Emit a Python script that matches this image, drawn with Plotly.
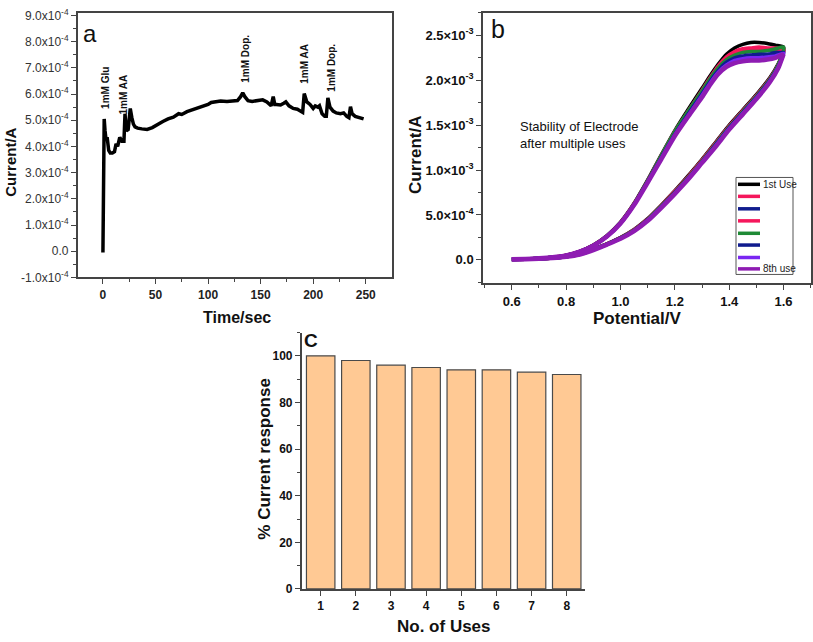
import plotly.graph_objects as go

# ---------------- Panel a: amperometric response ----------------
time_s = [0, 0.3, 1.2, 2.0, 3.0, 4.0, 5.5, 7, 9, 11, 12.5, 14, 16, 18, 20, 21.0, 22.2, 24, 26, 27.5,
          29, 30.5, 33, 37, 42, 47, 52, 57, 62, 67, 72, 75, 80, 85, 90, 95, 100, 103, 107, 112,
          118, 124, 128, 131, 133, 135, 138, 142, 147, 152, 156, 160, 162, 163.5, 165, 169, 172, 174, 177, 181,
          185, 188, 190, 191.5, 194, 197, 200, 202, 204.5, 206, 208.5, 211, 212.5, 214, 216, 219, 222, 226, 229, 232,
          234, 235.5, 237, 240, 244, 248]
current_a_e4 = [-0.05, 3.3, 5.05, 4.6, 4.25, 4.35, 3.85, 3.75, 3.75, 3.8, 4.1, 4.0, 4.35, 4.2, 4.2, 5.25, 4.6, 4.65, 5.45, 5.1,
                4.85, 4.75, 4.7, 4.67, 4.65, 4.72, 4.85, 4.95, 5.05, 5.12, 5.25, 5.22, 5.33, 5.4, 5.48, 5.52, 5.6, 5.68, 5.7, 5.73,
                5.72, 5.75, 5.75, 5.9, 6.05, 5.9, 5.75, 5.72, 5.75, 5.78, 5.7, 5.55, 5.9, 5.6, 5.6, 5.58, 5.65, 5.7, 5.55, 5.45,
                5.42, 5.35, 5.3, 6.02, 5.7, 5.6, 5.45, 5.55, 5.5, 5.55, 5.25, 5.15, 5.15, 5.85, 5.5, 5.35, 5.28, 5.25, 5.28, 5.15,
                5.1, 5.52, 5.25, 5.15, 5.1, 5.05]
event_labels = ["1mM Glu", "1mM AA", "1mM Dop.", "1mM AA", "1mM Dop."]
event_times = [3, 20, 135.5, 191.8, 216.6]
event_label_base_e4 = [5.36, 5.14, 6.37, 6.3, 6.0]
a_yticks_e4 = [-1, 0, 1, 2, 3, 4, 5, 6, 7, 8, 9]
a_yticktext = ["-1.0x10<sup>-4</sup>", "0.0"] + ["%d.0x10<sup>-4</sup>" % k for k in range(1, 10)]
a_xticks = [0, 50, 100, 150, 200, 250]

# ---------------- Panel b: CV stability ----------------
potential_fwd = [0.60, 0.65, 0.70, 0.75, 0.80, 0.85, 0.90, 0.95, 1.00, 1.05, 1.10, 1.15, 1.20, 1.25, 1.30,
                 1.35, 1.40, 1.45, 1.50, 1.55, 1.58, 1.60]
potential_rev = [1.60, 1.57, 1.54, 1.51, 1.48, 1.45, 1.42, 1.39, 1.36, 1.33, 1.30, 1.25, 1.20, 1.15, 1.10,
                 1.05, 1.00, 0.95, 0.90, 0.85, 0.80, 0.75, 0.70, 0.65, 0.60]
# currents in units of 1e-3 A
use1_fwd = [0.004, 0.008, 0.013, 0.022, 0.038, 0.065, 0.12, 0.18, 0.25, 0.34, 0.46, 0.61, 0.77, 0.94, 1.12, 1.31, 1.50, 1.67, 1.84, 2.03, 2.18, 2.33]
use1_rev = [2.37, 2.39, 2.41, 2.42, 2.42, 2.40, 2.36, 2.29, 2.18, 2.05, 1.91, 1.68, 1.44, 1.17, 0.89, 0.63, 0.42, 0.27, 0.165, 0.095, 0.052, 0.030, 0.018, 0.011, 0.007]
use2_fwd = [0.004, 0.008, 0.013, 0.022, 0.037, 0.064, 0.118, 0.178, 0.248, 0.335, 0.455, 0.605, 0.765, 0.93, 1.11, 1.30, 1.49, 1.66, 1.83, 2.02, 2.17, 2.32]
use2_rev = [2.35, 2.36, 2.36, 2.37, 2.36, 2.35, 2.32, 2.26, 2.16, 2.03, 1.89, 1.66, 1.43, 1.16, 0.88, 0.625, 0.415, 0.265, 0.163, 0.094, 0.051, 0.029, 0.018, 0.011, 0.007]
use3_fwd = [0.004, 0.008, 0.013, 0.021, 0.036, 0.063, 0.116, 0.175, 0.245, 0.33, 0.45, 0.60, 0.755, 0.92, 1.10, 1.29, 1.48, 1.65, 1.82, 2.01, 2.16, 2.31]
use3_rev = [2.33, 2.33, 2.33, 2.33, 2.32, 2.31, 2.28, 2.23, 2.14, 2.01, 1.87, 1.65, 1.42, 1.15, 0.875, 0.62, 0.41, 0.262, 0.16, 0.093, 0.05, 0.029, 0.018, 0.011, 0.007]
use4_fwd = [0.004, 0.008, 0.013, 0.021, 0.036, 0.063, 0.117, 0.176, 0.246, 0.332, 0.452, 0.602, 0.76, 0.925, 1.105, 1.295, 1.485, 1.655, 1.825, 2.015, 2.165, 2.315]
use4_rev = [2.34, 2.35, 2.35, 2.35, 2.34, 2.33, 2.30, 2.24, 2.15, 2.02, 1.88, 1.65, 1.42, 1.15, 0.875, 0.62, 0.41, 0.262, 0.16, 0.093, 0.05, 0.029, 0.018, 0.011, 0.007]
use5_fwd = [0.004, 0.008, 0.013, 0.021, 0.036, 0.063, 0.116, 0.175, 0.245, 0.33, 0.45, 0.60, 0.755, 0.92, 1.10, 1.29, 1.48, 1.65, 1.82, 2.01, 2.17, 2.34]
use5_rev = [2.37, 2.35, 2.33, 2.32, 2.32, 2.31, 2.28, 2.23, 2.14, 2.02, 1.88, 1.66, 1.43, 1.16, 0.88, 0.62, 0.41, 0.262, 0.16, 0.093, 0.05, 0.029, 0.018, 0.011, 0.007]
use6_fwd = [0.004, 0.008, 0.012, 0.021, 0.035, 0.062, 0.114, 0.173, 0.242, 0.326, 0.445, 0.593, 0.748, 0.912, 1.092, 1.28, 1.47, 1.64, 1.81, 2.00, 2.15, 2.30]
use6_rev = [2.31, 2.30, 2.29, 2.29, 2.28, 2.27, 2.25, 2.20, 2.11, 1.99, 1.85, 1.63, 1.40, 1.14, 0.87, 0.615, 0.408, 0.261, 0.159, 0.092, 0.05, 0.029, 0.018, 0.011, 0.007]
use7_fwd = [0.004, 0.008, 0.012, 0.02, 0.035, 0.061, 0.112, 0.171, 0.238, 0.323, 0.44, 0.586, 0.741, 0.906, 1.086, 1.27, 1.46, 1.63, 1.80, 1.99, 2.14, 2.29]
use7_rev = [2.30, 2.27, 2.26, 2.25, 2.25, 2.24, 2.22, 2.17, 2.09, 1.97, 1.83, 1.61, 1.39, 1.13, 0.865, 0.612, 0.406, 0.26, 0.158, 0.092, 0.05, 0.029, 0.018, 0.011, 0.007]
use8_fwd = [0.004, 0.008, 0.012, 0.02, 0.034, 0.06, 0.11, 0.17, 0.235, 0.32, 0.435, 0.58, 0.735, 0.90, 1.08, 1.26, 1.45, 1.62, 1.79, 1.98, 2.13, 2.29]
use8_rev = [2.29, 2.25, 2.23, 2.22, 2.22, 2.21, 2.19, 2.15, 2.07, 1.95, 1.81, 1.60, 1.38, 1.12, 0.86, 0.61, 0.405, 0.26, 0.158, 0.092, 0.05, 0.029, 0.018, 0.011, 0.007]
use_names = ["1st Use", "2nd Use", "3rd Use", "4th Use", "5th Use", "6th Use", "7th Use", "8th use"]
use_legend_text = ["1st Use", "", "", "", "", "", "", "8th use"]
use_colors = ["#000000", "#F5175C", "#101C8E", "#F5175C", "#1F8A35", "#101C8E", "#7A26F2", "#8E1CB2"]
use_widths = [3.5, 3.5, 3.5, 3.5, 3.5, 3.5, 3.5, 4.5]
b_yticks_e3 = [0.0, 0.5, 1.0, 1.5, 2.0, 2.5]
b_yticktext = ["0.0", "5.0×10<sup>-4</sup>", "1.0×10<sup>-3</sup>", "1.5×10<sup>-3</sup>",
               "2.0×10<sup>-3</sup>", "2.5×10<sup>-3</sup>"]
b_xticks = [0.6, 0.8, 1.0, 1.2, 1.4, 1.6]

# ---------------- Panel c: % current response ----------------
uses = [1, 2, 3, 4, 5, 6, 7, 8]
response_pct = [100, 98, 96, 95, 94, 94, 93, 92]

W, H = 813, 642
FONT = "Liberation Sans, Arial, sans-serif"


def fx(px):
    return px / W


def fy(py):
    return 1 - py / H


fig = go.Figure()

fig.add_trace(go.Scatter(x=time_s, y=[v * 1e-4 for v in current_a_e4], mode="lines",
                         line=dict(color="black", width=3.5), xaxis="x", yaxis="y", showlegend=False))

fwd_sets = [use1_fwd, use2_fwd, use3_fwd, use4_fwd, use5_fwd, use6_fwd, use7_fwd, use8_fwd]
rev_sets = [use1_rev, use2_rev, use3_rev, use4_rev, use5_rev, use6_rev, use7_rev, use8_rev]
for name, col, wd, f, r in zip(use_names, use_colors, use_widths, fwd_sets, rev_sets):
    fig.add_trace(go.Scatter(x=potential_fwd + potential_rev, y=[v * 1e-3 for v in f + r], mode="lines",
                             name=name, line=dict(color=col, width=wd, shape="spline", smoothing=0.6),
                             xaxis="x2", yaxis="y2", showlegend=False))

fig.add_trace(go.Bar(x=uses, y=response_pct, width=0.81,
                     marker=dict(color="#FFC994", line=dict(color="#4A4A4A", width=1.2)),
                     xaxis="x3", yaxis="y3", showlegend=False))

axis_common = dict(showgrid=False, zeroline=False, ticks="outside", linecolor="#444444",
                   linewidth=1.5, tickcolor="#444444", tickwidth=1.3, ticklen=5)

fig.update_layout(
    width=W, height=H, margin=dict(l=0, r=0, t=0, b=0),
    paper_bgcolor="white", plot_bgcolor="white",
    font=dict(family=FONT, color="#111111"),
    xaxis=dict(domain=[fx(77.7), fx(392)], anchor="y", range=[-24, 275], mirror=True,
               tickmode="array", tickvals=a_xticks, ticktext=[str(v) for v in a_xticks],
               tickfont=dict(size=12, weight="bold", color="#222222"),
               minor=dict(tickvals=[25, 75, 125, 175, 225], ticklen=3, tickcolor="#444444", ticks="outside"),
               **axis_common),
    yaxis=dict(domain=[fy(277), fy(7)], anchor="x", range=[-1.0e-4, 9.1e-4], mirror=True,
               tickmode="array", tickvals=[v * 1e-4 for v in a_yticks_e4], ticktext=a_yticktext,
               tickfont=dict(size=12, color="#333333"),
               minor=dict(tickvals=[(v + 0.5) * 1e-4 for v in a_yticks_e4[:-1]], ticklen=3,
                          tickcolor="#444444", ticks="outside"),
               **axis_common),
    xaxis2=dict(domain=[fx(483), fx(810.7)], anchor="y2", range=[0.494, 1.70], mirror=True,
                tickmode="array", tickvals=b_xticks, ticktext=["%.1f" % v for v in b_xticks],
                tickfont=dict(size=13, weight="bold", color="#111111"),
                minor=dict(tickvals=[0.5, 0.7, 0.9, 1.1, 1.3, 1.5, 1.7], ticklen=3,
                           tickcolor="#444444", ticks="outside"),
                **axis_common),
    yaxis2=dict(domain=[fy(283), fy(7)], anchor="x2", range=[-0.26e-3, 2.75e-3], mirror=True,
                tickmode="array", tickvals=[v * 1e-3 for v in b_yticks_e3], ticktext=b_yticktext,
                tickfont=dict(size=13, weight="bold", color="#111111"),
                minor=dict(tickvals=[(v + 0.25) * 1e-3 for v in b_yticks_e3] + [-0.25e-3], ticklen=3,
                           tickcolor="#444444", ticks="outside"),
                **axis_common),
    xaxis3=dict(domain=[fx(301.7), fx(585)], anchor="y3", range=[0.46, 8.52],
                tickmode="array", tickvals=uses, ticktext=[str(u) for u in uses],
                tickfont=dict(size=12, weight="bold", color="#111111"),
                **axis_common),
    yaxis3=dict(domain=[fy(595), fy(333.3)], anchor="x3", range=[0, 110],
                tickmode="array", tickvals=[0, 20, 40, 60, 80, 100],
                tickfont=dict(size=12, weight="bold", color="#111111"),
                minor=dict(tickvals=[10, 30, 50, 70, 90, 110], ticklen=3, tickcolor="#444444", ticks="outside"),
                **axis_common),
)

ann = []


def txt(text, x, y, size, bold=True, angle=0, xanchor="center", yanchor="middle", color="#111111"):
    ann.append(dict(text=text, x=fx(x), y=fy(y), xref="paper", yref="paper", showarrow=False,
                    textangle=angle, xanchor=xanchor, yanchor=yanchor,
                    font=dict(family=FONT, size=size, color=color, weight="bold" if bold else "normal")))


txt("Current/A", 11, 160, 15, angle=-90)
txt("Time/sec", 237, 318, 16)
txt("Current/A", 416, 152, 17, angle=-90)
txt("Potential/V", 637, 319, 17)
txt("% Current response", 265, 462, 17, angle=-90)
txt("No. of Uses", 444, 633, 17)
txt("a", 90, 28, 24, bold=False)
txt("b", 498, 23, 25, bold=False)
txt("C", 311, 341, 19)
ann.append(dict(text="Stability of Electrode<br>after multiple uses", x=fx(518), y=fy(132), xref="paper",
                yref="paper", showarrow=False, xanchor="left", yanchor="middle", align="left",
                font=dict(family=FONT, size=13, color="#111111")))

for lab, t, base in zip(event_labels, event_times, event_label_base_e4):
    ann.append(dict(text=lab, x=t, y=base * 1e-4, xref="x", yref="y", showarrow=False, textangle=-90,
                    xanchor="center", yanchor="bottom",
                    font=dict(family=FONT, size=10, color="#111111", weight="bold")))

shapes = [dict(type="rect", xref="paper", yref="paper", x0=fx(736), x1=fx(793), y0=fy(274), y1=fy(175),
               line=dict(color="#555555", width=1), fillcolor="white", layer="above")]
legend_rows = [182, 194.3, 207, 219.3, 232, 244, 256.7, 268.3]
for col, row, lt in zip(use_colors, legend_rows, use_legend_text):
    shapes.append(dict(type="line", xref="paper", yref="paper", x0=fx(738), x1=fx(760), y0=fy(row), y1=fy(row),
                       line=dict(color=col, width=3.5), layer="above"))
    if lt:
        ann.append(dict(text=lt, x=fx(761), y=fy(row), xref="paper", yref="paper", showarrow=False,
                        xanchor="left", yanchor="middle",
                        font=dict(family=FONT, size=10, color="#222222")))

fig.update_layout(annotations=ann, shapes=shapes)
fig.write_html("out.html")
